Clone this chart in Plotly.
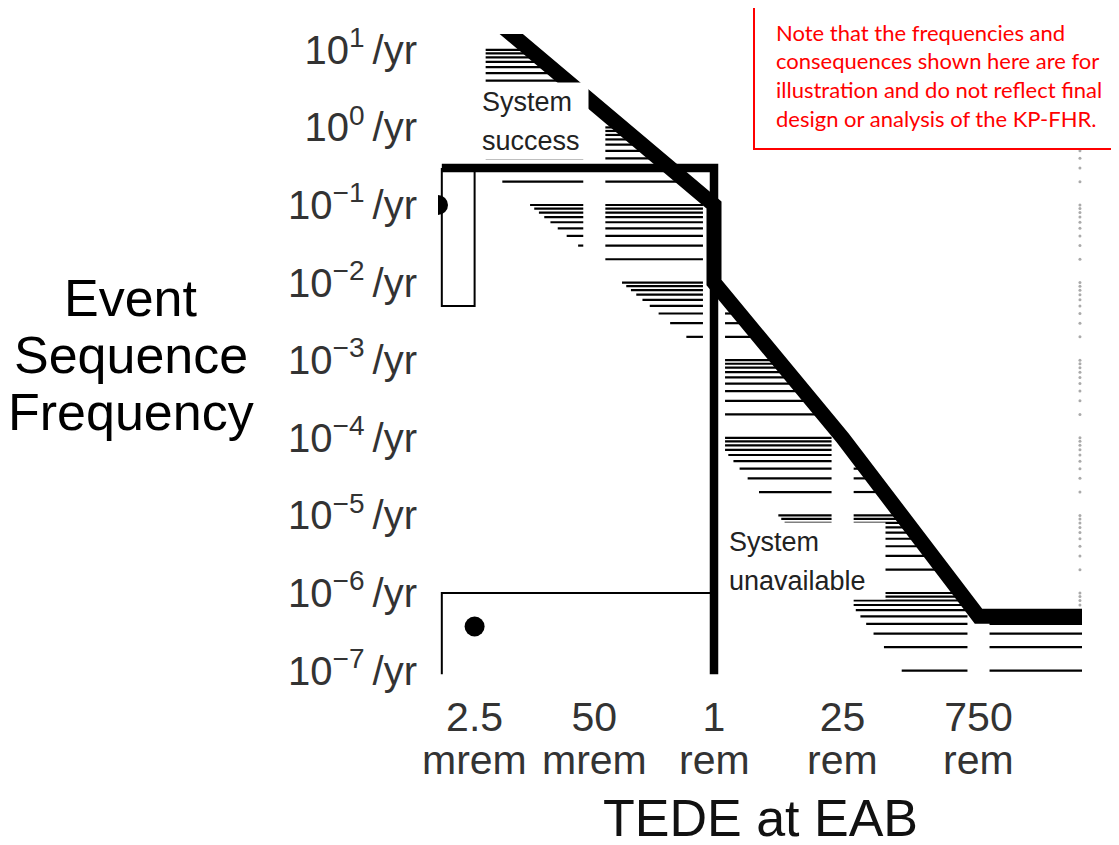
import numpy as np
import plotly.graph_objects as go

# frequency-consequence target (dose in rem, frequency per year)
fc_dose = [1e-3, 1, 1, 25, 750, 1e4]
fc_freq = [1e2, 1e-1, 1e-2, 1e-4, 5e-7, 5e-7]

# dose categories on the x axis
dose_vals = [0.0025, 0.05, 1, 25, 750]
dose_nums = ["2.5", "50", "1", "25", "750"]
dose_units = ["mrem", "mrem", "rem", "rem", "rem"]

# frequency ticks
freq_vals = [1e1, 1e0, 1e-1, 1e-2, 1e-3, 1e-4, 1e-5, 1e-6, 1e-7]
freq_exp = ["1", "0", "−1", "−2", "−3", "−4", "−5", "−6", "−7"]

# system success / system unavailable boxes
success_dose = [1.1e-3, 2.5e-3]
success_freq = [5e-3, 0.3]
unavail_dose = [1.1e-3, 1]
unavail_freq = [9e-8, 1e-6]

# illustrative event sequences
event_dose = [1e-3, 2.5e-3]
event_freq = [1e-1, 3.7e-7]

band_decades = 2   # hatched band depth below the target
gap = 0.12         # gap (log units) around each dose category

note = ["Note that the frequencies and", "consequences shown here are for",
        "illustration and do not reflect final", "design or analysis of the KP-FHR."]

XR = [-3, 4]
YR = [-7.057, 1.204]
OFF = 8                      # page body margin
L, R, T, B = 430, 37, 26, 170
W, H = 1111, 837
pw, ph = W - L - R, H - T - B


def px(x):
    return (x - OFF - L) / pw


def py(y):
    return (H + OFF - B - y) / ph


# hatch lines on log minor positions, clipped to the band under the target
lx, ly = np.log10(fc_dose), np.log10(fc_freq)
edges = [np.log10(d) for d in dose_vals] + [XR[1] + gap]
minor = [k * 10.0 ** n for n in range(-7, 2) for k in range(1, 10)]
hx, hy = [], []
for a, b in zip(edges[:-1], edges[1:]):
    g = np.linspace(a + gap, b - gap, 1500)
    up = np.interp(g, lx, ly)
    for f in minor:
        lf = np.log10(f)
        if lf > YR[1]:
            continue
        m = (up - band_decades <= lf) & (lf <= up)
        if m.any():
            hx += [10 ** g[m].min(), 10 ** g[m].max(), None]
            hy += [f, f, None]

fig = go.Figure()
fig.add_trace(go.Scatter(x=hx, y=hy, mode="lines", line=dict(color="black", width=2.2)))

# faint minor marks at the right edge
edge_f = [f for f in minor if 5.5e-7 < f <= 10]
fig.add_trace(go.Scatter(x=[9500] * len(edge_f), y=edge_f, mode="markers",
                         marker=dict(color="#aaaaaa", size=3)))

fig.add_trace(go.Scatter(x=[success_dose[0], success_dose[0], success_dose[1], success_dose[1]],
                         y=[success_freq[1], success_freq[0], success_freq[0], success_freq[1]],
                         mode="lines", line=dict(color="black", width=2)))
fig.add_trace(go.Scatter(x=[unavail_dose[1], unavail_dose[0], unavail_dose[0]],
                         y=[unavail_freq[1], unavail_freq[1], unavail_freq[0]],
                         mode="lines", line=dict(color="black", width=2)))
fig.add_trace(go.Scatter(x=[success_dose[0], unavail_dose[1], unavail_dose[1]],
                         y=[success_freq[1], success_freq[1], unavail_freq[0]],
                         mode="lines", line=dict(color="black", width=8.5)))
fig.add_trace(go.Scatter(x=fc_dose, y=fc_freq, mode="lines",
                         line=dict(color="black", width=15)))
fig.add_trace(go.Scatter(x=event_dose, y=event_freq, mode="markers",
                         marker=dict(color="black", size=20)))

ann = []
for i, t in enumerate(["Event", "Sequence", "Frequency"]):
    ann.append(dict(text=t, x=px(131), y=py(298 + 57 * i), xref="paper", yref="paper",
                    showarrow=False, xanchor="center", yanchor="middle",
                    font=dict(family="Liberation Sans", size=52, color="black")))
ann.append(dict(text="TEDE at EAB", x=px(760), y=py(818), xref="paper", yref="paper",
                showarrow=False, xanchor="center", yanchor="middle",
                font=dict(family="Liberation Sans", size=52, color="#111111")))
for d, u in zip(dose_vals, dose_units):
    ann.append(dict(text=u, x=np.log10(d), y=py(760), xref="x", yref="paper",
                    showarrow=False, xanchor="center", yanchor="middle",
                    font=dict(family="Liberation Sans", size=41, color="#333333")))
for t, x0, y0, w in [("System", 481, 102, 106), ("success", 481, 140, 106),
                     ("System", 728, 541, 156), ("unavailable", 728, 580, 156)]:
    ann.append(dict(text=t, x=px(x0), y=py(y0), xref="paper", yref="paper",
                    showarrow=False, xanchor="left", yanchor="middle", align="left",
                    width=w, height=37, bgcolor="white", borderpad=0,
                    font=dict(family="Liberation Sans", size=27, color="#222222")))
for i, t in enumerate(note):
    ann.append(dict(text=t, x=px(774), y=py(32 + 28.7 * i), xref="paper", yref="paper",
                    showarrow=False, xanchor="left", yanchor="middle",
                    font=dict(family="Lato", size=22, color="#ff0000")))

fig.update_layout(
    width=W, height=H, margin=dict(l=L, r=R, t=T, b=B),
    plot_bgcolor="white", paper_bgcolor="white", showlegend=False,
    annotations=ann,
    shapes=[dict(type="rect", xref="paper", yref="paper",
                 x0=px(754), x1=px(1125), y0=py(149), y1=py(5),
                 line=dict(color="#ff0000", width=2), fillcolor="white", layer="above")])
fig.update_xaxes(type="log", range=XR, tickvals=dose_vals, ticktext=dose_nums,
                 showgrid=False, zeroline=False, showline=False, ticks="",
                 ticklabelstandoff=14,
                 tickfont=dict(family="Liberation Sans", size=41, color="#333333"))
fig.update_yaxes(type="log", range=YR, tickvals=freq_vals,
                 ticktext=[f"10<sup>{e}</sup>\u2009/yr" for e in freq_exp],
                 showgrid=False, zeroline=False, showline=False, ticks="",
                 ticklabelstandoff=20,
                 tickfont=dict(family="Liberation Sans", size=40, color="#333333"))

fig.write_html("out.html")
